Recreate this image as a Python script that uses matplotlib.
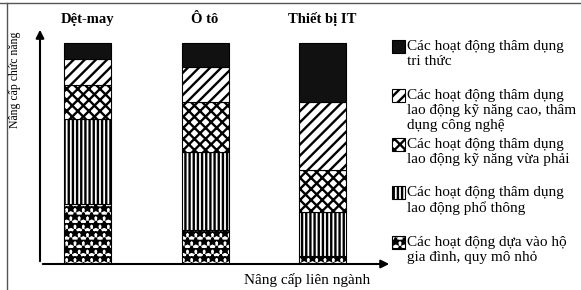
import matplotlib.pyplot as plt
from matplotlib.patches import Rectangle
import numpy as np

plt.rcParams['font.family'] = ['Liberation Serif', 'DejaVu Serif']
plt.rcParams['hatch.linewidth'] = 1.7

# industries (top labels)
sectors = ['Dệt-may', 'Ô tô', 'Thiết bị IT']

# share of each activity group in the bar (bottom -> top), in %
ho_gia_dinh = [27, 15.5, 3.5]      # household / small-scale
pho_thong = [38.5, 35, 20]         # low-skill labour
vua_phai = [15.5, 23, 19]          # medium-skill labour
ky_nang_cao = [11.5, 15.5, 31]     # high-skill / technology
tri_thuc = [7.5, 11, 26.5]         # knowledge intensive

layers = [ho_gia_dinh, pho_thong, vua_phai, ky_nang_cao, tri_thuc]
hatches = ['**', '||||', 'xxx', '///', '']
fills = ['white', 'white', 'white', 'white', '#111111']

legend_labels = [
    'Các hoạt động thâm dụng\ntri thức',
    'Các hoạt động thâm dụng\nlao động kỹ năng cao, thâm\ndụng công nghệ',
    'Các hoạt động thâm dụng\nlao động kỹ năng vừa phải',
    'Các hoạt động thâm dụng\nlao động phổ thông',
    'Các hoạt động dựa vào hộ\ngia đình, quy mô nhỏ',
]

fig = plt.figure(figsize=(5.81, 2.90), dpi=100)
ax = fig.add_axes([40 / 581, 26 / 290, 352 / 581, 237 / 290])

x = np.arange(len(sectors))
bottom = np.zeros(len(sectors))
for vals, h, fc in zip(layers, hatches, fills):
    ax.bar(x, vals, 0.4, bottom=bottom, color=fc, edgecolor='black',
           hatch=h, linewidth=0.8)
    bottom += np.array(vals)

ax.set_xlim(-0.404, 2.591)
ax.set_ylim(0, 107.2)
for s in ax.spines.values():
    s.set_visible(False)
ax.xaxis.tick_top()
ax.set_xticks(x)
ax.set_xticklabels(sectors, fontsize=10.5, fontweight='bold')
ax.tick_params(axis='x', length=0, pad=1)
ax.set_yticks([])

# axis arrows
ax.annotate('', xy=(0, 1), xytext=(0, 0), xycoords='axes fraction',
            arrowprops=dict(arrowstyle='-|>', lw=1.5, color='black', mutation_scale=12))
ax.annotate('', xy=(1, 0), xytext=(0, 0), xycoords='axes fraction',
            arrowprops=dict(arrowstyle='-|>', lw=1.5, color='black', mutation_scale=12))

# overlay in pixel coordinates for labels, legend, frame
lax = fig.add_axes([0, 0, 1, 1], facecolor='none')
lax.set_xlim(0, 581)
lax.set_ylim(290, 0)
lax.axis('off')

lax.text(15, 80, 'Nâng cấp chức năng', rotation=90, ha='center', va='center', fontsize=8.5)
lax.text(307, 280, 'Nâng cấp liên ngành', ha='center', va='center', fontsize=11)

leg_y = [40, 89, 138, 186, 236]
for y, h, fc, lab in zip(leg_y, hatches[::-1], fills[::-1], legend_labels):
    lax.add_patch(Rectangle((392, y), 13, 13, facecolor=fc, edgecolor='black',
                            hatch=h, linewidth=0.8))
    lax.text(407, y, lab, ha='left', va='top', fontsize=11, linespacing=1.2)

lax.plot([0, 581], [3, 3], color='#555555', lw=1)
lax.plot([7, 7], [3, 290], color='#555555', lw=1)

fig.savefig('out.png', dpi=100)
